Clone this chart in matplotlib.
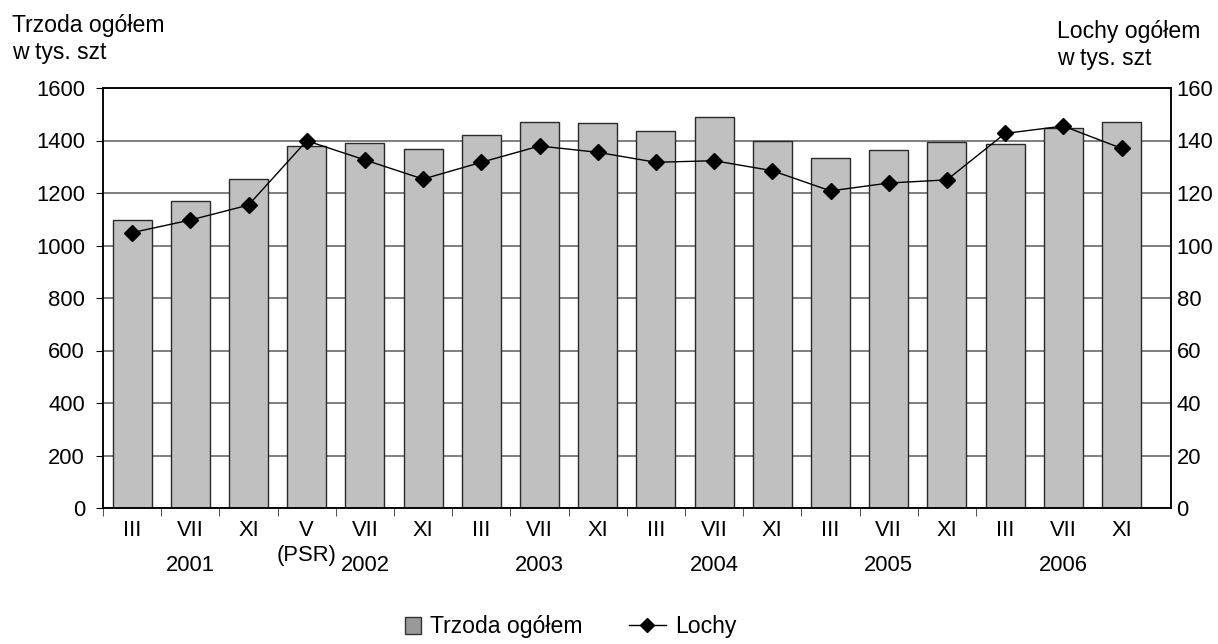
import matplotlib
matplotlib.use("Agg")
import matplotlib.pyplot as plt
from matplotlib.patches import Patch, Rectangle
from matplotlib.lines import Line2D
from matplotlib.legend_handler import HandlerPatch
from matplotlib.transforms import blended_transform_factory
import numpy as np

plt.rcParams['font.family'] = ['Liberation Sans', 'DejaVu Sans']

months = ["III", "VII", "XI", "V", "VII", "XI", "III", "VII", "XI",
          "III", "VII", "XI", "III", "VII", "XI", "III", "VII", "XI"]
trzoda = [1096, 1170, 1253, 1379, 1389, 1368, 1420, 1472, 1468,
          1438, 1488, 1400, 1333, 1364, 1394, 1385, 1449, 1469]
lochy = [104.9, 109.7, 115.4, 139.9, 132.6, 125.3, 131.7, 137.9, 135.5,
         131.7, 132.3, 128.5, 120.8, 123.8, 125.0, 142.7, 145.5, 137.0]
years = ["2001", "2002", "2003", "2004", "2005", "2006"]
year_idx = [1, 4, 7, 10, 13, 16]

FS = 15.8
FT = 16.6
W, H = 1218, 644
fig = plt.figure(figsize=(W/100, H/100), dpi=100)
ax = fig.add_axes([103/W, 1-508/H, (1171-103)/W, (508-88)/H])
x = np.arange(len(months))

ax.set_axisbelow(True)
ax.yaxis.grid(True, color="#6a6a6a", linewidth=1.2)
ax.bar(x, trzoda, width=0.67, color="#c0c0c0", edgecolor="#2a2a2a", linewidth=1.0, zorder=2)
ax.set_ylim(0, 1600)
ax.set_yticks(np.arange(0, 1601, 200))
ax.set_xlim(-0.5, 17.85)

ax.set_xticks(x)
ax.set_xticklabels(months, fontsize=FS)
ax.tick_params(axis='x', which='major', length=0, pad=9)
ax.set_xticks(np.arange(-0.5, 15, 1.0), minor=True)
ax.tick_params(axis='x', which='minor', length=6, direction='out', color='#333333')
ax.tick_params(axis='y', labelsize=FS, length=5, direction='out', pad=8)

for s in ax.spines.values():
    s.set_color("black")
    s.set_linewidth(1.1)

ax2 = ax.twinx()
ax2.plot(x, lochy, color="black", linewidth=1.0, marker='D', markersize=8.5,
         markerfacecolor="black", markeredgecolor="black", zorder=3)
ax2.set_ylim(0, 160)
ax2.set_yticks(np.arange(0, 161, 20))
ax2.tick_params(axis='y', labelsize=FS, length=0, direction='out', pad=4)
for s in ax2.spines.values():
    s.set_color("black")
    s.set_linewidth(1.1)

trans = blended_transform_factory(ax.transData, ax.transAxes)
for yr, i in zip(years, year_idx):
    ax.text(i, -0.136, yr, transform=trans, ha='center', va='center', fontsize=FS)
ax.text(3, -0.112, "(PSR)", transform=trans, ha='center', va='center', fontsize=FS)

fig.text(12/W, 1-32/H, "Trzoda ogółem", ha='left', va='baseline', fontsize=FT)
fig.text(12/W, 1-59/H, "w tys. szt", ha='left', va='baseline', fontsize=FT)
fig.text(1057/W, 1-38/H, "Lochy ogółem", ha='left', va='baseline', fontsize=FT)
fig.text(1057/W, 1-65/H, "w tys. szt", ha='left', va='baseline', fontsize=FT)


def square_patch(legend, orig_handle, xdescent, ydescent, width, height, fontsize):
    return Rectangle((-xdescent + width - height, -ydescent), height, height)


handles = [Patch(facecolor="#999999", edgecolor="#333333", label="Trzoda ogółem"),
           Line2D([0], [0], color="black", linewidth=1.0, marker='D', markersize=7,
                  label="Lochy")]
fig.legend(handles=handles, loc='center', bbox_to_anchor=(560/W, 1-627/H), ncol=2,
           frameon=False, fontsize=FT, handlelength=1.6, handletextpad=0.4,
           columnspacing=2.0,
           handler_map={Patch: HandlerPatch(patch_func=square_patch)})

fig.savefig("out.png", dpi=100)
